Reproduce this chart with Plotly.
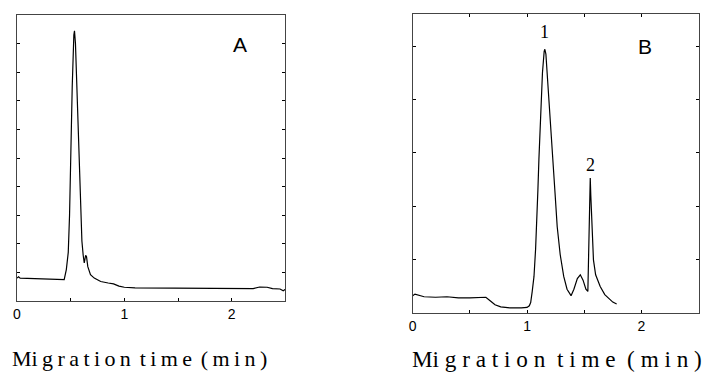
import plotly.graph_objects as go

# Panel A data (migration time, min / signal, arbitrary units)
time_a = [0.00, 0.015, 0.03, 0.1, 0.2, 0.3, 0.4, 0.44, 0.46, 0.478, 0.49, 0.50, 0.515, 0.53,
          0.536, 0.545, 0.555, 0.565, 0.577, 0.59, 0.605, 0.617, 0.627, 0.64, 0.648, 0.66,
          0.685, 0.72, 0.78, 0.85, 0.9, 0.95, 1.0, 1.1, 1.3, 1.5, 1.7, 1.9, 2.1, 2.2, 2.26,
          2.33, 2.38, 2.45, 2.48, 2.5]
signal_a = [0.80, 0.85, 0.80, 0.79, 0.77, 0.75, 0.73, 0.75, 1.1, 1.7, 3.0, 5.0, 7.5, 9.3,
            9.45, 9.0, 7.8, 6.5, 5.0, 3.3, 2.1, 1.6, 1.33, 1.6, 1.55, 1.2,
            0.92, 0.80, 0.68, 0.63, 0.60, 0.52, 0.48, 0.46, 0.45, 0.44, 0.43, 0.42, 0.42, 0.43, 0.49,
            0.48, 0.43, 0.42, 0.36, 0.41]

# Panel B data
time_b = [0.00, 0.02, 0.1, 0.2, 0.3, 0.4, 0.5, 0.6, 0.64, 0.68, 0.72, 0.77, 0.85, 0.95,
          1.00, 1.02, 1.032, 1.045, 1.061, 1.075, 1.084, 1.095, 1.104, 1.12, 1.135, 1.15, 1.156,
          1.165, 1.18, 1.20, 1.215, 1.229, 1.245, 1.264, 1.29, 1.321, 1.35, 1.385, 1.41, 1.44,
          1.466, 1.49, 1.515, 1.532, 1.545, 1.553, 1.558, 1.567, 1.581, 1.60, 1.64, 1.68, 1.72,
          1.75, 1.784]
signal_b = [0.33, 0.36, 0.31, 0.30, 0.31, 0.29, 0.29, 0.30, 0.30, 0.23, 0.16, 0.12, 0.10, 0.10,
            0.11, 0.14, 0.2, 0.4, 0.69, 1.2, 1.62, 2.3, 2.88, 3.8, 4.5, 4.9, 4.94,
            4.85, 4.4, 3.75, 3.3, 2.88, 2.25, 1.62, 1.1, 0.69, 0.45, 0.33, 0.45, 0.65,
            0.72, 0.62, 0.45, 0.41, 1.5, 2.53, 2.2, 1.6, 1.0, 0.72, 0.5, 0.35, 0.26,
            0.21, 0.175]

x_tickvals = [0, 0.5, 1, 1.5, 2, 2.5]
x_ticktext = ["0", "", "1", "", "2", ""]
peak_labels = ["1", "2"]
peak_pos_x = [1.156, 1.558]
peak_pos_y = [5.26, 2.78]

W, H = 706, 372
fig = go.Figure()
fig.add_trace(go.Scatter(x=time_a, y=signal_a, mode="lines", xaxis="x", yaxis="y",
                         line=dict(color="black", width=1.2), showlegend=False))
fig.add_trace(go.Scatter(x=time_b, y=signal_b, mode="lines", xaxis="x2", yaxis="y2",
                         line=dict(color="black", width=1.2), showlegend=False))

axis_line = dict(showline=True, linecolor="#444", linewidth=1, showgrid=False, zeroline=False,
                 ticks="inside", ticklen=3, tickcolor="black", tickwidth=1)
tickfont = dict(family="Liberation Sans, Arial", size=14, color="black")

fig.update_layout(
    width=W, height=H, margin=dict(l=0, r=0, t=0, b=0),
    paper_bgcolor="white", plot_bgcolor="white",
    xaxis=dict(domain=[13 / W, 283 / W], range=[0, 2.5], anchor="y", mirror=True,
               tickvals=x_tickvals, ticktext=x_ticktext, tickfont=tickfont, **axis_line),
    yaxis=dict(domain=[(H - 301) / H, (H - 15) / H], range=[0, 10], anchor="x",
               mirror="allticks", dtick=1, showticklabels=False, **axis_line),
    xaxis2=dict(domain=[411 / W, 698.5 / W], range=[0, 2.5], anchor="y2", mirror="allticks",
                tickvals=x_tickvals, ticktext=x_ticktext, tickfont=tickfont, **axis_line),
    yaxis2=dict(domain=[(H - 313.3) / H, (H - 14) / H], range=[0, 5.6], anchor="x2",
                mirror="allticks", dtick=1, showticklabels=False, **axis_line),
)

annos = [
    dict(x=2.08, y=8.97, xref="x", yref="y", text="A", showarrow=False,
         font=dict(family="Liberation Sans, Arial", size=21, color="black")),
    dict(x=2.03, y=5.0, xref="x2", yref="y2", text="B", showarrow=False,
         font=dict(family="Liberation Sans, Arial", size=21, color="black")),
]
for lbl, px, py in zip(peak_labels, peak_pos_x, peak_pos_y):
    annos.append(dict(x=px, y=py, xref="x2", yref="y2", text=lbl, showarrow=False,
                      font=dict(family="Liberation Serif, Times New Roman", size=18, color="black")))

thin = "\u2009"
nb = "\u00a0"
title_a = "Mi g r a t i o n  t i m e  ( m i n )".replace(" ", thin)
title_b = "Mi g r a t i o n  t i m e  ( m i n )".replace(" ", nb)
annos.append(dict(x=6 / W, y=(H - 358) / H, xref="paper", yref="paper", text=title_a,
                  xanchor="left", yanchor="middle", showarrow=False,
                  font=dict(family="Liberation Serif, Times New Roman", size=22, color="black")))
annos.append(dict(x=408 / W, y=(H - 359) / H, xref="paper", yref="paper", text=title_b,
                  xanchor="left", yanchor="middle", showarrow=False,
                  font=dict(family="Liberation Serif, Times New Roman", size=23.2, color="black")))
fig.update_layout(annotations=annos)

fig.write_html("out.html", config={"displayModeBar": False},
               post_script="document.body.style.margin='0';document.body.style.overflow='hidden';")
